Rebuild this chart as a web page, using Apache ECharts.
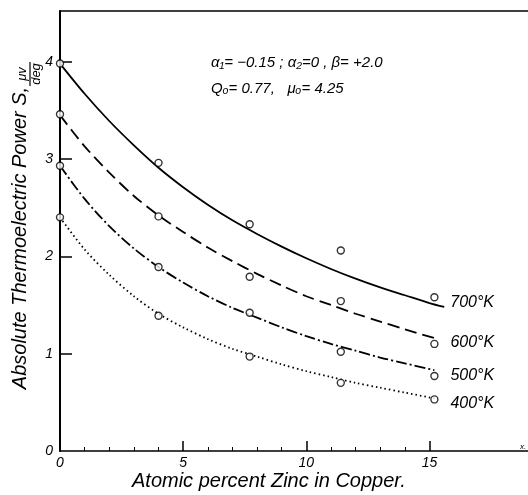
<!DOCTYPE html>
<html>
<head>
<meta charset="utf-8">
<script src="https://cdn.jsdelivr.net/npm/echarts@6/dist/echarts.min.js"></script>
<style>html,body{margin:0;padding:0;background:#fff}#c{width:528px;height:495px}</style>
</head>
<body>
<div id="c"></div>
<script>
// Measured points (atomic % Zn, S in μv/deg)
const zincPct = [0, 4, 7.7, 11.4, 15.2];
const meas700 = [3.98, 2.96, 2.33, 2.06, 1.58];
const meas600 = [3.46, 2.41, 1.79, 1.54, 1.10];
const meas500 = [2.93, 1.89, 1.42, 1.02, 0.77];
const meas400 = [2.40, 1.39, 0.97, 0.70, 0.53];

// Fitted curves
const curveX700 = [0, 1, 2, 3, 4, 5, 6, 7, 8, 9, 10, 11, 12, 13, 14, 15, 15.6];
const curve700 = [3.98, 3.67, 3.39, 3.14, 2.91, 2.71, 2.53, 2.37, 2.23, 2.10, 1.98, 1.87, 1.77, 1.68, 1.60, 1.52, 1.48];
const curveX = [0, 1, 2, 3, 4, 5, 6, 7, 8, 9, 10, 11, 12, 13, 14, 15.2];
const curve600 = [3.45, 3.13, 2.86, 2.62, 2.42, 2.25, 2.09, 1.95, 1.82, 1.70, 1.59, 1.50, 1.41, 1.33, 1.25, 1.16];
const curve500 = [2.93, 2.59, 2.31, 2.08, 1.89, 1.73, 1.59, 1.47, 1.37, 1.27, 1.18, 1.10, 1.03, 0.96, 0.90, 0.83];
const curve400 = [2.40, 2.07, 1.81, 1.59, 1.41, 1.27, 1.15, 1.05, 0.97, 0.89, 0.82, 0.76, 0.70, 0.65, 0.60, 0.54];

const curveNames = ['700°K', '600°K', '500°K', '400°K'];
const xMajorTicks = [5, 10, 15];
const xMinorTicks = [1, 2, 3, 4, 6, 7, 8, 9, 11, 12, 13, 14];
const xTickLabels = [0, 5, 10, 15];
const yTicks = [1, 2, 3, 4];
const yTickLabels = [0, 1, 2, 3, 4];

const FONT = 'Liberation Sans';
const pair = (xs, ys) => xs.map((x, i) => [x, ys[i]]);

function curveSeries(name, xs, ys, type, dist, off) {
  return {
    type: 'line', name: name, data: pair(xs, ys), smooth: 0.3, symbol: 'none',
    lineStyle: { color: '#000', width: 1.8, type: type },
    endLabel: { show: true, formatter: name, color: '#000', fontFamily: FONT, fontStyle: 'italic',
      fontSize: 16, distance: dist, offset: off },
    z: 2, silent: true
  };
}
function pointSeries(ys) {
  return {
    type: 'scatter', data: pair(zincPct, ys), symbol: 'circle', symbolSize: 7,
    itemStyle: { color: '#fff', borderColor: '#000', borderWidth: 1.4 }, z: 3, silent: true
  };
}

const chart = echarts.init(document.getElementById('c'), null, { renderer: 'canvas' });
const ax = { color: '#000', fontFamily: FONT, fontStyle: 'italic', fontSize: 14 };
chart.setOption({
  animation: false,
  backgroundColor: '#fff',
  grid: { left: 60, right: 0, top: 11, bottom: 44, outerBoundsMode: 'none', containLabel: false },
  xAxis: [
    { type: 'value', position: 'bottom', min: 0, max: 19, interval: 5,
      axisLine: { show: true, onZero: false, lineStyle: { color: '#000', width: 1.5 } },
      axisTick: { show: true, inside: true, length: 10, customValues: xMajorTicks, lineStyle: { color: '#000', width: 1.5 } },
      axisLabel: { ...ax, margin: 5, customValues: xTickLabels },
      splitLine: { show: false }
    },
    { type: 'value', position: 'bottom', min: 0, max: 19, interval: 5,
      axisLine: { show: false },
      axisTick: { show: true, inside: true, length: 4, customValues: xMinorTicks, lineStyle: { color: '#000', width: 1 } },
      axisLabel: { show: false }, splitLine: { show: false }
    },
    { type: 'value', position: 'top', min: 0, max: 19, interval: 5,
      axisLine: { show: true, lineStyle: { color: '#000', width: 1.5 } },
      axisTick: { show: false }, axisLabel: { show: false }, splitLine: { show: false }
    }
  ],
  yAxis: {
    type: 'value', min: 0, max: 4.52, interval: 1,
    axisLine: { show: true, onZero: false, lineStyle: { color: '#000', width: 2 } },
    axisTick: { show: true, inside: true, length: 12, customValues: yTicks, lineStyle: { color: '#000', width: 1.5 } },
    axisLabel: { ...ax, margin: 7, customValues: yTickLabels },
    splitLine: { show: false }
  },
  series: [
    curveSeries(curveNames[0], curveX700, curve700, 'solid', 6, [0, -4]),
    curveSeries(curveNames[1], curveX, curve600, [12, 6], 16, [0, 4]),
    curveSeries(curveNames[2], curveX, curve500, [11, 3, 2, 3], 16, [0, 5]),
    curveSeries(curveNames[3], curveX, curve400, [1.5, 3], 16, [0, 5]),
    pointSeries(meas700), pointSeries(meas600), pointSeries(meas500), pointSeries(meas400)
  ],
  graphic: [
    { type: 'text', left: 211, top: 55,
      style: { text: 'α₁= −0.15 ; α₂=0 , β= +2.0', fill: '#000', font: 'italic 15px "' + FONT + '"' } },
    { type: 'text', left: 211, top: 81,
      style: { text: 'Qₒ= 0.77,   μₒ= 4.25', fill: '#000', font: 'italic 15px "' + FONT + '"' } },
    { type: 'text', left: 520, top: 443,
      style: { text: 'x.', fill: '#000', font: 'italic 8px "' + FONT + '"' } },
    { type: 'text', left: 132, top: 471,
      style: { text: 'Atomic percent Zinc in Copper.', fill: '#000', font: 'italic 20px "' + FONT + '"' } },
    { type: 'group', x: 20, y: 238, rotation: Math.PI / 2,
      children: [
        { type: 'text', x: 0, y: 0,
          style: { text: 'Absolute Thermoelectric Power S,', fill: '#000', font: 'italic 20px "' + FONT + '"',
            align: 'center', verticalAlign: 'middle' } },
        { type: 'text', x: 164, y: 9,
          style: { text: 'μv', fill: '#000', font: 'italic 13px "' + FONT + '"', align: 'center', verticalAlign: 'bottom' } },
        { type: 'line', shape: { x1: 152, y1: 10, x2: 176, y2: 10 }, style: { stroke: '#000', lineWidth: 1.2 } },
        { type: 'text', x: 164, y: 10,
          style: { text: 'deg', fill: '#000', font: 'italic 13px "' + FONT + '"', align: 'center', verticalAlign: 'top' } }
      ] }
  ]
});
</script>
</body>
</html>
